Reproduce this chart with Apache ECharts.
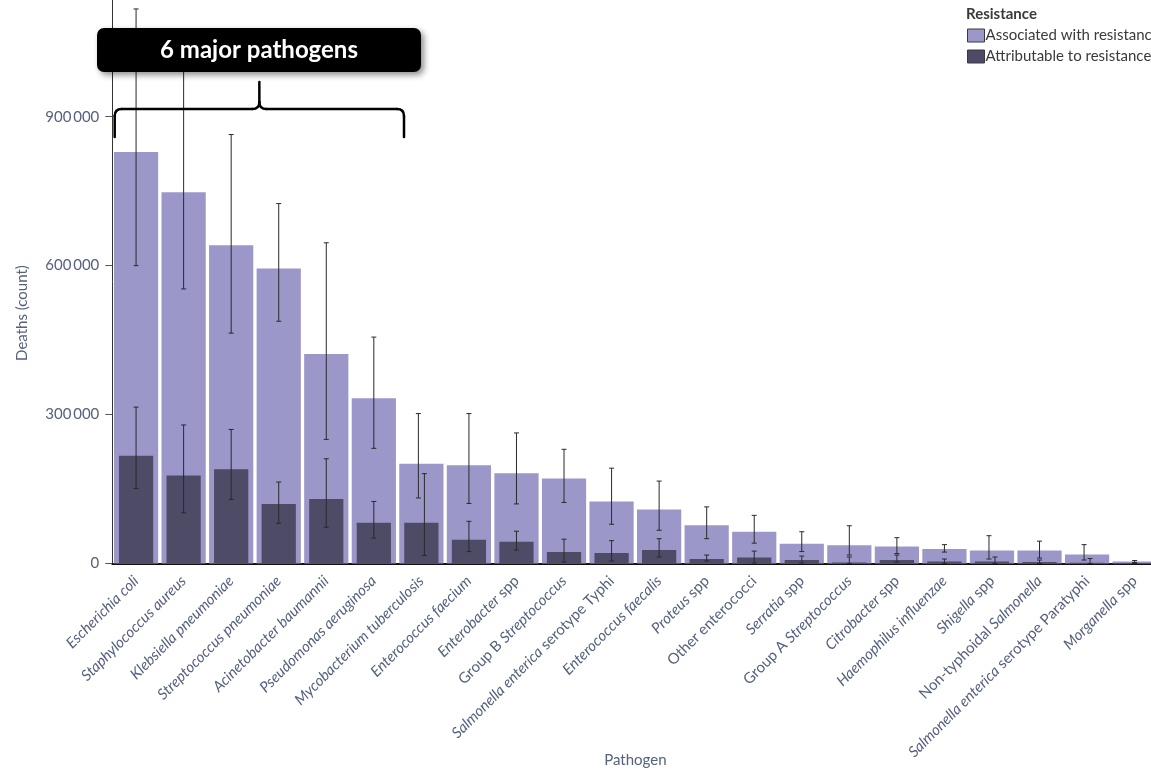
<!DOCTYPE html>
<html>
<head>
<meta charset="utf-8">
<script src="https://cdn.jsdelivr.net/npm/echarts@6/dist/echarts.min.js"></script>
<style>
  html, body { margin: 0; padding: 0; background: #fff; }
  #chart { width: 1151px; height: 771px; }
</style>
</head>
<body>
<div id="chart"></div>
<script>
// Global deaths associated with and attributable to bacterial antimicrobial resistance, by pathogen
const categories = [
  'Escherichia coli', 'Staphylococcus aureus', 'Klebsiella pneumoniae', 'Streptococcus pneumoniae',
  'Acinetobacter baumannii', 'Pseudomonas aeruginosa', 'Mycobacterium tuberculosis', 'Enterococcus faecium',
  'Enterobacter spp', 'Group B Streptococcus', 'Salmonella enterica serotype Typhi', 'Enterococcus faecalis',
  'Proteus spp', 'Other enterococci', 'Serratia spp', 'Group A Streptococcus', 'Citrobacter spp',
  'Haemophilus influenzae', 'Shigella spp', 'Non-typhoidal Salmonella',
  'Salmonella enterica serotype Paratyphi', 'Morganella spp'
];

// Deaths associated with resistance (point estimate, lower and upper uncertainty bound)
const associated     = [829000, 748000, 641000, 594000, 422000, 333000, 201000, 198000, 182000, 171000, 125000, 109000, 77000, 64000, 40000, 37000, 34000, 29000, 26000, 26000, 18000, 4000];
const associatedLow  = [600000, 553000, 464000, 488000, 250000, 232000, 132000, 121000, 120000, 123000, 79000, 67000, 50000, 41000, 24000, 17000, 20000, 23000, 9000, 11000, 7000, 2000];
const associatedHigh = [1117000, 1020000, 864000, 725000, 646000, 456000, 302000, 302000, 263000, 230000, 192000, 166000, 114000, 97000, 64000, 76000, 52000, 38000, 56000, 45000, 38000, 6000];

// Deaths attributable to resistance (point estimate, lower and upper uncertainty bound)
const attributable     = [217000, 177000, 190000, 120000, 130000, 82000, 82000, 48000, 44000, 23000, 21000, 27000, 9000, 12000, 7000, 2000, 7000, 4000, 4000, 3000, 1500, 800];
const attributableLow  = [151000, 102000, 129000, 81000, 73000, 51000, 16000, 24000, 27000, 3000, 5000, 13000, 5000, 1000, 1000, 0, 3000, 0, 0, 0, 0, 0];
const attributableHigh = [315000, 279000, 270000, 164000, 211000, 125000, 181000, 85000, 65000, 49000, 46000, 50000, 17000, 25000, 15000, 13000, 17000, 9000, 13000, 7000, 10000, 2000];

const yTicks = [0, 300000, 600000, 900000];
const seriesNames = ['Associated with resistance', 'Attributable to resistance'];

const LIGHT = '#9c97c9';
const DARK = '#4d4b66';
const AXIS_TEXT = '#55617d';
const FONT = 'Lato, "Open Sans", sans-serif';

// Species names are set in italics; qualifiers such as "spp" or "serotype" stay upright
function richName(name) {
  let m;
  if ((m = name.match(/^(.*) spp$/))) return '{i|' + m[1] + '}{n| spp}';
  if ((m = name.match(/^(Group [AB]) (.*)$/))) return '{n|' + m[1] + ' }{i|' + m[2] + '}';
  if ((m = name.match(/^(Salmonella enterica) (serotype .*)$/))) return '{i|' + m[1] + '}{n| ' + m[2] + '}';
  if ((m = name.match(/^(Non-typhoidal) (.*)$/))) return '{n|' + m[1] + ' }{i|' + m[2] + '}';
  if (name === 'Other enterococci') return '{n|' + name + '}';
  return '{i|' + name + '}';
}

// Where the two uncertainty intervals overlap, the whiskers are nudged apart
const errLight = [], errDark = [];
categories.forEach(function (c, i) {
  const overlap = attributableHigh[i] > associatedLow[i];
  errLight.push([i, associatedLow[i], associatedHigh[i], overlap ? -3 : 0]);
  errDark.push([i, attributableLow[i], attributableHigh[i], overlap ? 3 : 0]);
});

function renderWhisker(params, api) {
  const i = api.value(0);
  const lo = api.coord([i, api.value(1)]);
  const hi = api.coord([i, api.value(2)]);
  const x = lo[0] + api.value(3);
  const cap = 2.5;
  const style = { stroke: '#2a2a2a', lineWidth: 1 };
  return {
    type: 'group',
    children: [
      { type: 'line', shape: { x1: x, y1: lo[1], x2: x, y2: hi[1] }, style: style },
      { type: 'line', shape: { x1: x - cap, y1: hi[1], x2: x + cap, y2: hi[1] }, style: style },
      { type: 'line', shape: { x1: x - cap, y1: lo[1], x2: x + cap, y2: lo[1] }, style: style }
    ]
  };
}

// Curly brace drawn from straight segments and quadratic curves
function braceParts(x0, x1, yBar, yEnd, yTip) {
  const xm = (x0 + x1) / 2, r = 7;
  const st = { stroke: '#000', lineWidth: 2.5, fill: null, lineCap: 'round' };
  const line = function (a, b, c, d) { return { type: 'line', shape: { x1: a, y1: b, x2: c, y2: d }, style: st, z: 100 }; };
  const curve = function (a, b, cx, cy, c, d) {
    return { type: 'bezierCurve', shape: { x1: a, y1: b, cpx1: cx, cpy1: cy, x2: c, y2: d }, style: st, z: 100 };
  };
  return [
    line(x0, yEnd, x0, yBar + r),
    curve(x0, yBar + r, x0, yBar, x0 + r, yBar),
    line(x0 + r, yBar, xm - r, yBar),
    curve(xm - r, yBar, xm, yBar, xm, yBar - r),
    line(xm, yBar - r, xm, yTip),
    curve(xm + r, yBar, xm, yBar, xm, yBar - r),
    line(xm + r, yBar, x1 - r, yBar),
    curve(x1 - r, yBar, x1, yBar, x1, yBar + r),
    line(x1, yBar + r, x1, yEnd)
  ];
}

const chart = echarts.init(document.getElementById('chart'), null, { renderer: 'canvas' });

const option = {
  animation: false,
  backgroundColor: '#ffffff',
  title: {
    text: 'Resistance',
    left: 961, top: 2,
    textStyle: { fontFamily: FONT, fontSize: 15, fontWeight: 'bold', color: '#3a3a3a' }
  },
  legend: {
    orient: 'vertical',
    left: 962, top: 23,
    itemWidth: 17, itemHeight: 13, itemGap: 6,
    icon: 'rect',
    itemStyle: { borderColor: '#3a3a3a', borderWidth: 1 },
    textStyle: { fontFamily: FONT, fontSize: 15, color: '#3a3a3a', padding: [0, 0, 0, -4] },
    data: seriesNames
  },
  grid: {
    left: 112.3, top: 0, width: 1046.1, height: 563.5,
    containLabel: false,
    outerBoundsMode: 'none'
  },
  xAxis: [
    {
      type: 'category',
      data: categories,
      name: 'Pathogen',
      nameLocation: 'middle',
      nameGap: 189,
      nameMoveOverlap: false,
      nameTextStyle: { fontFamily: FONT, fontSize: 15, color: AXIS_TEXT },
      axisLine: { lineStyle: { color: '#111', width: 2 } },
      axisTick: { length: 6, lineStyle: { color: '#222', width: 1.5 } },
      axisLabel: {
        interval: 0,
        rotate: 45,
        margin: 15,
        formatter: richName,
        rich: {
          i: { fontFamily: FONT, fontSize: 15, fontStyle: 'italic', color: AXIS_TEXT },
          n: { fontFamily: FONT, fontSize: 15, color: AXIS_TEXT }
        }
      }
    },
    {
      type: 'category',
      data: categories,
      show: false
    }
  ],
  yAxis: {
    type: 'value',
    min: 0,
    max: 1135000,
    interval: 300000,
    splitLine: { show: false },
    axisLine: { show: true, lineStyle: { color: '#333', width: 1 } },
    axisTick: { show: true, length: 7, customValues: yTicks, lineStyle: { color: '#555' } },
    axisLabel: {
      customValues: yTicks,
      margin: 13,
      fontFamily: FONT, fontSize: 15, color: AXIS_TEXT,
      formatter: function (v) { return String(v).replace(/\B(?=(\d{3})+(?!\d))/g, '\u2009'); }
    }
  },
  series: [
    {
      name: seriesNames[0],
      type: 'bar',
      xAxisIndex: 0,
      data: associated,
      barCategoryGap: '7%',
      itemStyle: { color: LIGHT },
      z: 2
    },
    {
      name: seriesNames[1],
      type: 'bar',
      xAxisIndex: 1,
      data: attributable,
      barCategoryGap: '28%',
      itemStyle: { color: DARK },
      z: 3
    },
    {
      type: 'custom',
      xAxisIndex: 0,
      renderItem: renderWhisker,
      data: errLight,
      z: 5,
      silent: true
    },
    {
      type: 'custom',
      xAxisIndex: 0,
      renderItem: renderWhisker,
      data: errDark,
      z: 5,
      silent: true
    }
  ],
  graphic: [
    {
      type: 'text',
      x: 22, y: 313,
      rotation: Math.PI / 2,
      style: {
        text: 'Deaths (count)',
        fontFamily: FONT, fontSize: 15, fill: AXIS_TEXT,
        align: 'center', verticalAlign: 'middle'
      }
    },
    // Callout for the six leading pathogens
    {
      type: 'rect',
      shape: { x: 97, y: 28, width: 324, height: 44, r: 7 },
      style: {
        fill: '#000',
        shadowBlur: 6, shadowOffsetX: 3, shadowOffsetY: 3, shadowColor: 'rgba(0,0,0,0.45)'
      },
      z: 100
    },
    {
      type: 'text',
      x: 259, y: 50,
      style: {
        text: '6 major pathogens',
        fontFamily: FONT, fontSize: 24, fontWeight: 'bold', fill: '#fff',
        align: 'center', verticalAlign: 'middle'
      },
      z: 101
    }
  ].concat(braceParts(114.7, 404, 109, 137, 82))
};

chart.setOption(option);
</script>
</body>
</html>
